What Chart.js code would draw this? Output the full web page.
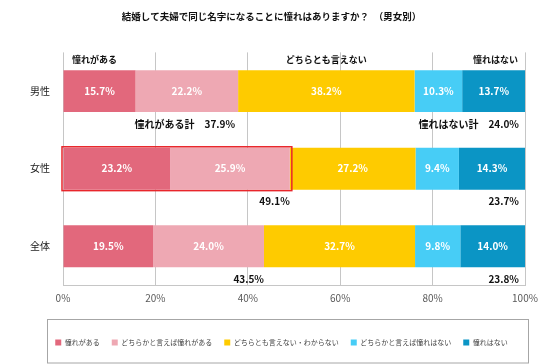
<!DOCTYPE html>
<html><head><meta charset="utf-8">
<script src="https://cdn.jsdelivr.net/npm/chart.js@4/dist/chart.umd.min.js"></script>
<style>html,body{margin:0;padding:0;background:#fff}#wrap{width:550px;height:364px}</style>
</head><body><div id="wrap"><canvas id="c" width="550" height="364"></canvas></div>
<script>
const categories = ['男性', '女性', '全体'];
const seriesNames = ['憧れがある', 'どちらかと言えば憧れがある', 'どちらとも言えない・わからない', 'どちらかと言えば憧れはない', '憧れはない'];
const s1 = [15.7, 23.2, 19.5];
const s2 = [22.2, 25.9, 24.0];
const s3 = [38.2, 27.2, 32.7];
const s4 = [10.3, 9.4, 9.8];
const s5 = [13.7, 14.3, 14.0];
const posTotals = [37.9, 49.1, 43.5];
const negTotals = [24.0, 23.7, 23.8];
const headerLabels = ['憧れがある', 'どちらとも言えない', '憧れはない'];
const posPrefix = '憧れがある計　';
const negPrefix = '憧れはない計　';
const titleText = '結婚して夫婦で同じ名字になることに憧れはありますか？　（男女別）';
const colors = ['#E2687C', '#EEA8B3', '#FECB00', '#47CDF6', '#0B95C5'];

const JP = '"Noto Sans CJK JP", "Noto Sans", sans-serif';
const LEGEND_SHIFT = 10;

const annot = {
  id: 'annot',
  afterLayout(chart) {
    const lg = chart.legend;
    if (!lg) return;
    lg.left += LEGEND_SHIFT;
    lg.right += LEGEND_SHIFT;
  },
  afterDatasetsDraw(chart) {
    const ctx = chart.ctx, xs = chart.scales.x;
    ctx.save();
    ctx.font = 'bold 10px ' + JP;
    ctx.fillStyle = '#fff';
    ctx.textAlign = 'center';
    ctx.textBaseline = 'middle';
    chart.data.datasets.forEach((ds, di) => {
      chart.getDatasetMeta(di).data.forEach((bar, i) => {
        const p = bar.getProps(['x', 'base', 'y'], true);
        ctx.fillText(ds.data[i].toFixed(1) + '%', (p.x + p.base) / 2, p.y);
      });
    });
    const meta0 = chart.getDatasetMeta(0);
    ctx.fillStyle = '#111';
    ctx.font = 'bold 9px ' + JP;
    const b0 = meta0.data[0].getProps(['y', 'height'], true);
    const hy = b0.y - b0.height / 2 - 11;
    ctx.textAlign = 'left';
    ctx.fillText(headerLabels[0], xs.getPixelForValue(0) + 9, hy);
    ctx.textAlign = 'center';
    const midStart = s1[0] + s2[0];
    ctx.fillText(headerLabels[1], xs.getPixelForValue(midStart + s3[0] / 2), hy);
    ctx.textAlign = 'right';
    ctx.fillText(headerLabels[2], xs.getPixelForValue(100) - 7, hy);
    meta0.data.forEach((bar, i) => {
      const p = bar.getProps(['y', 'height'], true);
      const ty = p.y + p.height / 2 + 12;
      ctx.font = 'bold 10px ' + JP;
      ctx.textAlign = 'right';
      const pt = (i === 0 ? posPrefix : '') + posTotals[i].toFixed(1) + '%';
      ctx.fillText(pt, xs.getPixelForValue(posTotals[i]) - (i === 0 ? 3 : 0), ty);
      const nt = (i === 0 ? negPrefix : '') + negTotals[i].toFixed(1) + '%';
      ctx.fillText(nt, xs.getPixelForValue(100) - 6, ty);
    });
    const fb = meta0.data[1].getProps(['y', 'height'], true);
    ctx.strokeStyle = '#E8262B';
    ctx.lineWidth = 1.5;
    const x0 = xs.getPixelForValue(0) - 1, x1 = xs.getPixelForValue(posTotals[1]) + 2;
    ctx.strokeRect(x0, fb.y - fb.height / 2 - 1, x1 - x0, fb.height + 2);
    ctx.restore();
  },
  afterDraw(chart) {
    const lg = chart.legend;
    if (!lg || !lg.legendHitBoxes || !lg.legendHitBoxes.length) return;
    const hb = lg.legendHitBoxes;
    const left = hb[0].left - 18 + LEGEND_SHIFT;
    const right = hb[hb.length - 1].left + hb[hb.length - 1].width + 11 + LEGEND_SHIFT;
    const cy = hb[0].top + hb[0].height / 2;
    const ctx = chart.ctx;
    ctx.save();
    ctx.strokeStyle = '#a6a6a6';
    ctx.lineWidth = 1;
    const top = Math.round(cy - 24) + 0.5;
    ctx.strokeRect(Math.round(left) + 0.5, top, Math.round(right - left), Math.min(46, chart.height - 1 - top));
    ctx.restore();
  }
};

new Chart(document.getElementById('c'), {
  type: 'bar',
  data: {
    labels: categories,
    datasets: [s1, s2, s3, s4, s5].map((d, i) => ({
      label: seriesNames[i],
      data: d,
      backgroundColor: colors[i],
      borderWidth: 0,
      categoryPercentage: 1,
      barPercentage: 0.54
    }))
  },
  options: {
    indexAxis: 'y',
    responsive: false,
    animation: false,
    layout: { padding: { top: 0, left: 18, right: 25, bottom: 8 } },
    scales: {
      x: {
        stacked: true, min: 0, max: 100,
        ticks: { stepSize: 20, callback: v => v + '%', color: '#595959', font: { size: 10, family: JP }, padding: 7 },
        grid: { color: '#c6c6c6', drawTicks: false },
        border: { color: '#c6c6c6' },
        afterFit(s) { s.height = 42; }
      },
      y: {
        stacked: true,
        ticks: { color: '#222', font: { size: 10, family: JP }, padding: 13 },
        grid: { display: false, drawTicks: false },
        border: { display: false },
        afterFit(s) { s.width = 45; }
      }
    },
    plugins: {
      title: {
        display: true, text: titleText, color: '#111',
        font: { size: 9.5, weight: 'bold', family: JP },
        padding: { top: 11, bottom: 30 }
      },
      legend: {
        position: 'bottom',
        labels: { boxWidth: 6, boxHeight: 6, padding: 12, color: '#444', font: { size: 7, family: JP } }
      },
      tooltip: { enabled: false }
    }
  },
  plugins: [annot]
});
</script></body></html>
